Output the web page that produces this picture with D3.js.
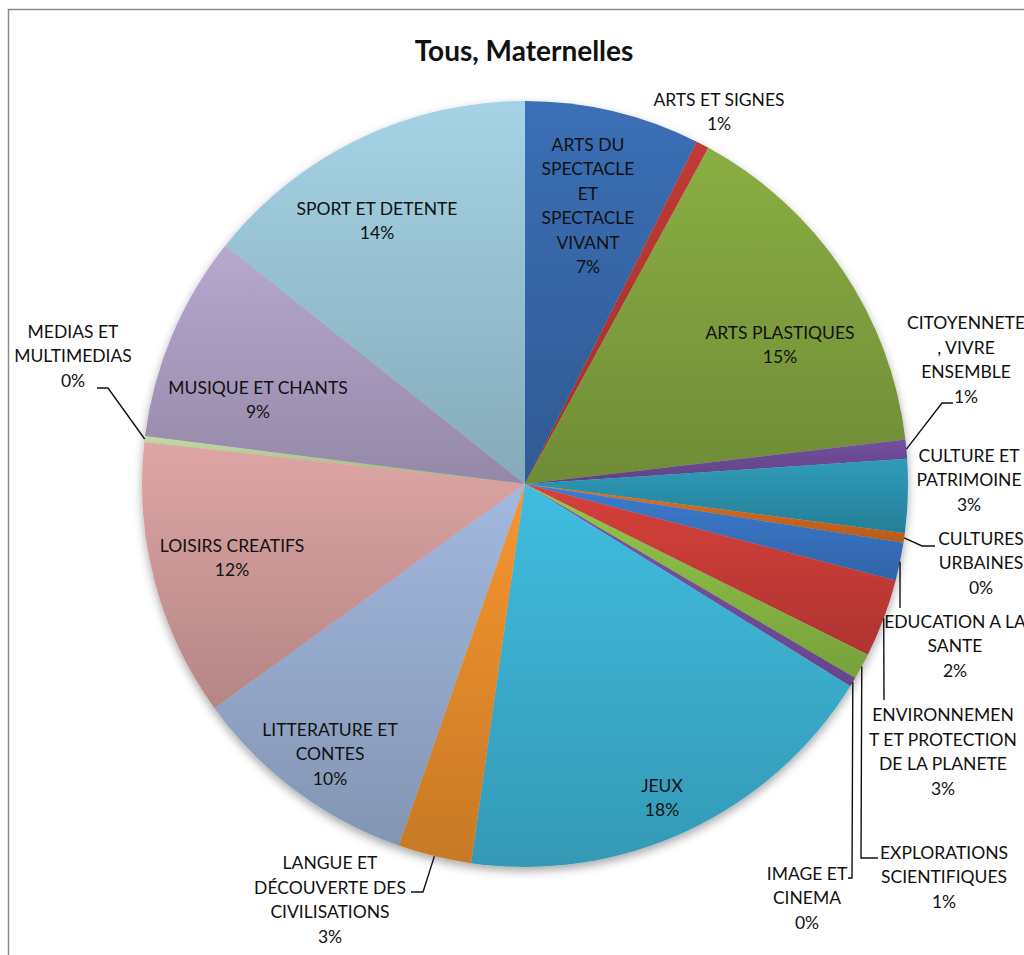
<!DOCTYPE html>
<html>
<head>
<meta charset="utf-8">
<script src="https://cdn.jsdelivr.net/npm/d3@7"></script>
<style>
  body { margin: 0; background: #fff; }
  svg { display: block; }
  text { font-family: Lato, "Open Sans", sans-serif; fill: #111; }
</style>
</head>
<body>
<div id="chart"></div>
<script>
// categories, clockwise from 12 o'clock ("\n" = line break of the label)
const categories = [
  "ARTS DU\nSPECTACLE\nET\nSPECTACLE\nVIVANT",
  "ARTS ET SIGNES",
  "ARTS PLASTIQUES",
  "CITOYENNETE\n, VIVRE\nENSEMBLE",
  "CULTURE ET\nPATRIMOINE",
  "CULTURES\nURBAINES",
  "EDUCATION A LA\nSANTE",
  "ENVIRONNEMEN\nT ET PROTECTION\nDE LA PLANETE",
  "EXPLORATIONS\nSCIENTIFIQUES",
  "IMAGE ET\nCINEMA",
  "JEUX",
  "LANGUE ET\nDÉCOUVERTE DES\nCIVILISATIONS",
  "LITTERATURE ET\nCONTES",
  "LOISIRS CREATIFS",
  "MEDIAS ET\nMULTIMEDIAS",
  "MUSIQUE ET CHANTS",
  "SPORT ET DETENTE"
];
// share of each category (percent)
const values = [7.4, 0.55, 15.2, 0.8, 3.1, 0.4, 1.6, 3.3, 1.1, 0.4, 18.4, 3.1, 9.7, 11.7, 0.25, 8.7, 14.3];

const colors = [
  "#3b6fb6", "#c23b35", "#8aae43", "#7450a0", "#2f9cba", "#e07020",
  "#3d7cd0", "#d8403b", "#93c84a", "#7d55ab", "#40bde0", "#f7962f",
  "#a2b8de", "#dea6a5", "#c3dca2", "#b7a8cf", "#a5d3e5"
];

const width = 1024, height = 955;
const cx = 525, cy = 484, R = 383;
const lineH = 24.5;

// label placement: centre of the text block, offset from the pie centre (px),
// and the elbow points of the leader line when there is one
const labelLayout = [
  { at: [63, -278] },
  { at: [194, -372] },
  { at: [255, -139] },
  { at: [441, -124], leader: [[417, -81], [428, -81]] },
  { at: [444, -4] },
  { at: [456, 79], leader: [[397, 62], [410, 62]] },
  { at: [430, 162], leader: [[375, 124]] },
  { at: [418, 268], leader: [[359, 216]] },
  { at: [419, 393], leader: [[336, 374], [353, 374]] },
  { at: [282, 414], leader: [[327, 394], [323, 394]] },
  { at: [137, 314] },
  { at: [-195, 416], leader: [[-102, 408], [-114, 408]] },
  { at: [-195, 270] },
  { at: [-293, 74] },
  { at: [-452, -128], leader: [[-417, -96], [-428, -96]] },
  { at: [-267, -84] },
  { at: [-148, -263] }
];

const total = d3.sum(values);
const svg = d3.select("#chart").append("svg")
  .attr("width", width)
  .attr("height", height);

const defs = svg.append("defs");
const shadow = defs.append("filter").attr("id", "shadow")
  .attr("x", "-10%").attr("y", "-10%").attr("width", "120%").attr("height", "125%");
shadow.append("feDropShadow")
  .attr("dx", 0).attr("dy", 4).attr("stdDeviation", 5)
  .attr("flood-color", "#000").attr("flood-opacity", 0.35);

colors.forEach((c, i) => {
  const g = defs.append("linearGradient").attr("id", "grad" + i)
    .attr("x1", 0).attr("y1", 0).attr("x2", 0).attr("y2", 1);
  g.append("stop").attr("offset", "0%").attr("stop-color", c);
  g.append("stop").attr("offset", "100%").attr("stop-color", d3.color(c).darker(0.6));
});

// frame
svg.append("rect")
  .attr("x", 8.5).attr("y", 9.5)
  .attr("width", 1100).attr("height", 1000)
  .attr("fill", "none")
  .attr("stroke", "#8a8a8a")
  .attr("stroke-width", 1.5);

svg.append("text")
  .attr("x", 524)
  .attr("y", 61)
  .attr("text-anchor", "middle")
  .attr("font-size", 28)
  .attr("font-weight", "bold")
  .text("Tous, Maternelles");

const pie = d3.pie().sort(null).value(d => d)
  .startAngle(0).endAngle(2 * Math.PI);
const arcs = pie(values);

const arc = d3.arc().innerRadius(0).outerRadius(R);

const g = svg.append("g").attr("transform", "translate(" + cx + "," + cy + ")");

g.append("g").attr("filter", "url(#shadow)")
  .selectAll("path")
  .data(arcs)
  .enter().append("path")
    .attr("d", arc)
    .attr("fill", (d, i) => "url(#grad" + i + ")");

// leader lines
const edge = d3.arc().innerRadius(R).outerRadius(R);
const line = d3.line();
g.selectAll("path.leader")
  .data(arcs.filter((d, i) => labelLayout[i].leader))
  .enter().append("path")
    .attr("class", "leader")
    .attr("fill", "none")
    .attr("stroke", "#111")
    .attr("stroke-width", 1.4)
    .attr("d", d => line([edge.centroid(d)].concat(labelLayout[d.index].leader)));

// labels
const labels = g.selectAll("text.label")
  .data(arcs)
  .enter().append("text")
    .attr("class", "label")
    .attr("text-anchor", "middle")
    .attr("font-size", 17.5);

labels.each(function(d, i) {
  const lines = categories[i].split("\n").concat([Math.round(d.value / total * 100) + "%"]);
  const [x, y] = labelLayout[i].at;
  const top = y - (lines.length - 1) / 2 * lineH + 6;
  d3.select(this).selectAll("tspan")
    .data(lines)
    .enter().append("tspan")
      .attr("x", x)
      .attr("y", (l, k) => top + k * lineH)
      .text(l => l);
});
</script>
</body>
</html>
